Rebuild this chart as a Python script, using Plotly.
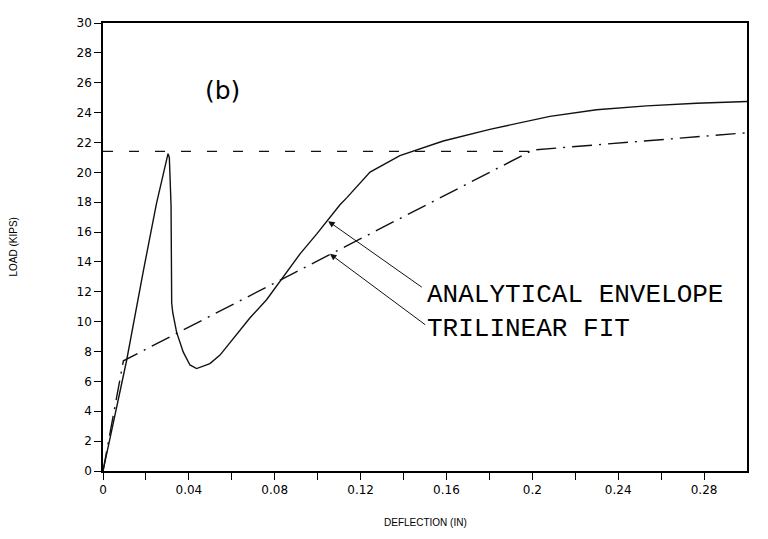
import plotly.graph_objects as go

# ---- data ----
envelope_x = [0.0, 0.011, 0.0188, 0.0249, 0.0303, 0.0309, 0.0317, 0.0320, 0.0325,
              0.0343, 0.0374, 0.0405, 0.0436, 0.0498, 0.0545, 0.0606, 0.0685,
              0.0762, 0.0824, 0.0918, 0.0995, 0.1104, 0.1135, 0.1244, 0.1383,
              0.1585, 0.1802, 0.2082, 0.2299, 0.2532, 0.2765, 0.30]
envelope_y = [0.0, 7.4, 13.4, 17.9, 21.25, 21.0, 17.8, 11.25, 10.6,
              9.28, 7.96, 7.1, 6.86, 7.19, 7.76, 8.84, 10.26,
              11.47, 12.7, 14.54, 15.86, 17.83, 18.29, 20.02, 21.12,
              22.1, 22.88, 23.75, 24.19, 24.45, 24.63, 24.74]

trilinear_x = [0.0, 0.0095, 0.2004, 0.30]
trilinear_y = [0.0, 7.38, 21.5, 22.65]

peak_line_x = [0.0, 0.2]
peak_line_y = [21.4, 21.4]

x_tick_vals = [0, 0.02, 0.04, 0.06, 0.08, 0.10, 0.12, 0.14, 0.16, 0.18, 0.20,
               0.22, 0.24, 0.26, 0.28]
x_tick_text = ["0", "", "0.04", "", "0.08", "", "0.12", "", "0.16", "", "0.2",
               "", "0.24", "", "0.28"]
y_tick_vals = list(range(0, 31, 2))
y_tick_text = [str(v) for v in y_tick_vals]

LINE = "#111111"

fig = go.Figure()
fig.add_trace(go.Scatter(x=envelope_x, y=envelope_y, mode="lines",
                         line=dict(color=LINE, width=1.4), name="ANALYTICAL ENVELOPE"))
fig.add_trace(go.Scatter(x=trilinear_x, y=trilinear_y, mode="lines",
                         line=dict(color=LINE, width=1.4, dash="20px,7px,2px,7px"),
                         name="TRILINEAR FIT"))
fig.add_trace(go.Scatter(x=peak_line_x, y=peak_line_y, mode="lines",
                         line=dict(color=LINE, width=1.3, dash="10px,16px"),
                         name="peak"))

axis_common = dict(showline=True, linecolor="black", linewidth=1.5, mirror=True,
                   ticks="outside", tickcolor="black", tickwidth=1, ticklen=7,
                   showgrid=False, zeroline=False,
                   tickfont=dict(family="DejaVu Sans", size=12, color="black"))

fig.update_xaxes(range=[0, 0.3], tickmode="array", tickvals=x_tick_vals,
                 ticktext=x_tick_text, **axis_common)
fig.update_yaxes(range=[0, 30], tickmode="array", tickvals=y_tick_vals,
                 ticktext=y_tick_text, **axis_common)

# axis titles
fig.add_annotation(text="DEFLECTION (IN)", xref="paper", yref="paper",
                   x=0.5, y=-0.1143, xanchor="center", yanchor="middle",
                   showarrow=False, font=dict(family="Liberation Sans", size=10, color="black"))
fig.add_annotation(text="LOAD (KIPS)", xref="paper", yref="paper",
                   x=-0.1405, y=0.5, xanchor="center", yanchor="middle", textangle=-90,
                   showarrow=False, font=dict(family="Liberation Sans", size=10, color="black"))

# panel label
fig.add_annotation(text="(b)", x=0.0557, y=25.46, xref="x", yref="y",
                   showarrow=False, font=dict(family="DejaVu Sans", size=25, color="black"))

# callout texts
fig.add_annotation(text="ANALYTICAL ENVELOPE", x=0.1500, y=11.78, xref="x", yref="y",
                   xanchor="left", yanchor="middle", showarrow=False,
                   font=dict(family="Liberation Mono", size=26, color="black"))
fig.add_annotation(text="TRILINEAR FIT", x=0.1500, y=9.54, xref="x", yref="y",
                   xanchor="left", yanchor="middle", showarrow=False,
                   font=dict(family="Liberation Mono", size=26, color="black"))

# leader arrows
fig.add_annotation(text="", x=0.1049, y=16.73, ax=0.1492, ay=12.24,
                   xref="x", yref="y", axref="x", ayref="y", showarrow=True,
                   arrowhead=2, arrowsize=1.3, arrowwidth=1, arrowcolor=LINE)
fig.add_annotation(text="", x=0.1057, y=14.54, ax=0.1508, ay=9.72,
                   xref="x", yref="y", axref="x", ayref="y", showarrow=True,
                   arrowhead=2, arrowsize=1.3, arrowwidth=1, arrowcolor=LINE)

# page body has an 8px default margin: size the figure so the plot area
# lands at x 103..747, y 16..471 in the window
fig.update_layout(width=752, height=523, showlegend=False,
                  margin=dict(l=95, r=13, t=8, b=60),
                  paper_bgcolor="white", plot_bgcolor="white")

fig.write_html("out.html")
